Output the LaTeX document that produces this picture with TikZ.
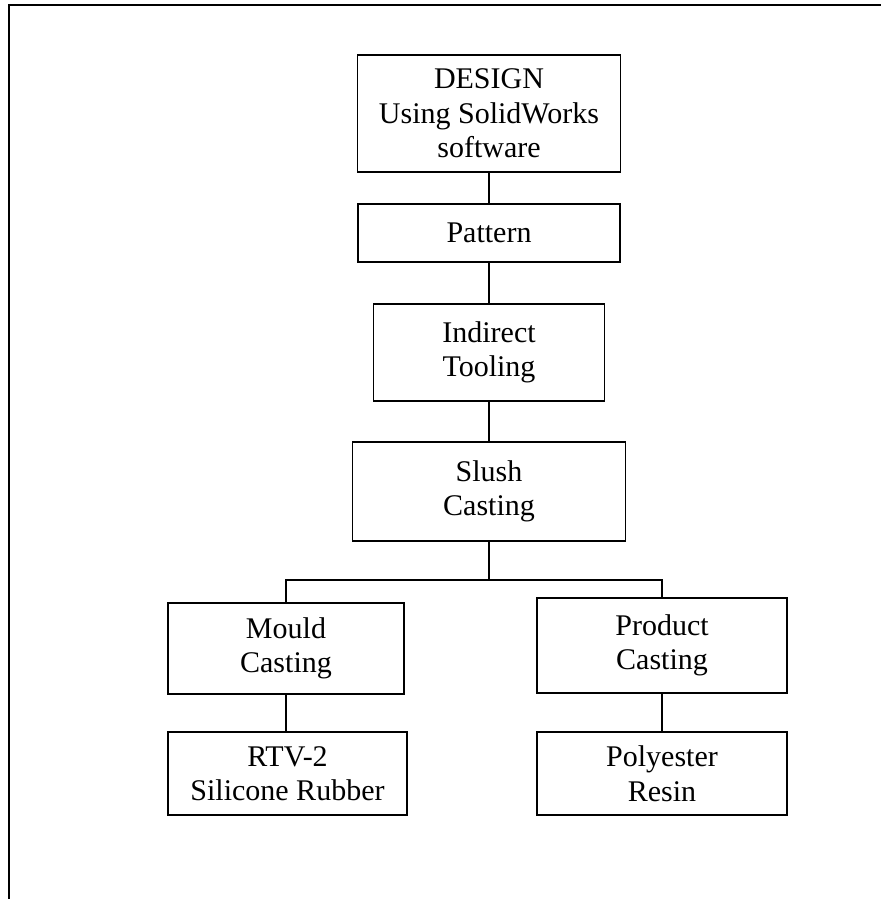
\documentclass[tikz,border=0pt]{standalone}
\usepackage{fontspec}
\setmainfont{Liberation Serif}
\begin{document}
\begin{tikzpicture}[x=1pt, y=-1pt, line width=1.2pt,
    stage/.style={draw, line width=1.8pt, align=center, inner sep=0pt,
      font=\fontsize{30}{34.5}\selectfont}]
    \useasboundingbox (0,0) rectangle (881,899);
    \draw[line width=2pt] (8,5) -- (881,5);
    \draw[line width=2pt] (9,5) -- (9,899);

    \node[stage, minimum width=263, minimum height=117] (design) at (489,113.5) {DESIGN\\Using SolidWorks\\software};
    \node[stage, minimum width=262, minimum height=58] (pattern) at (489,233) {Pattern};
    \node[stage, minimum width=231, minimum height=97] (indirect) at (489,352.5) {Indirect\\Tooling};
    \node[stage, minimum width=273, minimum height=99] (slush) at (489,491.5) {Slush\\Casting};

    \node[stage, minimum width=236, minimum height=91] (mould) at (286,648.5) {Mould\\Casting};
    \node[stage, minimum width=250, minimum height=95] (product) at (662,645.5) {Product\\Casting};
    \node[stage, minimum width=239, minimum height=83] (rtv) at (287.5,773.5) {RTV-2\\Silicone Rubber};
    \node[stage, minimum width=250, minimum height=83] (resin) at (662,773.5) {Polyester\\Resin};

    \draw (design) -- (pattern);
    \draw (pattern) -- (indirect);
    \draw (indirect) -- (slush);
    \draw (slush.south) -- ++(0,38) coordinate (fork);
    \draw (mould.north) |- (fork) -| (product.north);
    \draw (mould.south) -- (mould.south |- rtv.north);
    \draw (product) -- (resin);
\end{tikzpicture}
\end{document}
